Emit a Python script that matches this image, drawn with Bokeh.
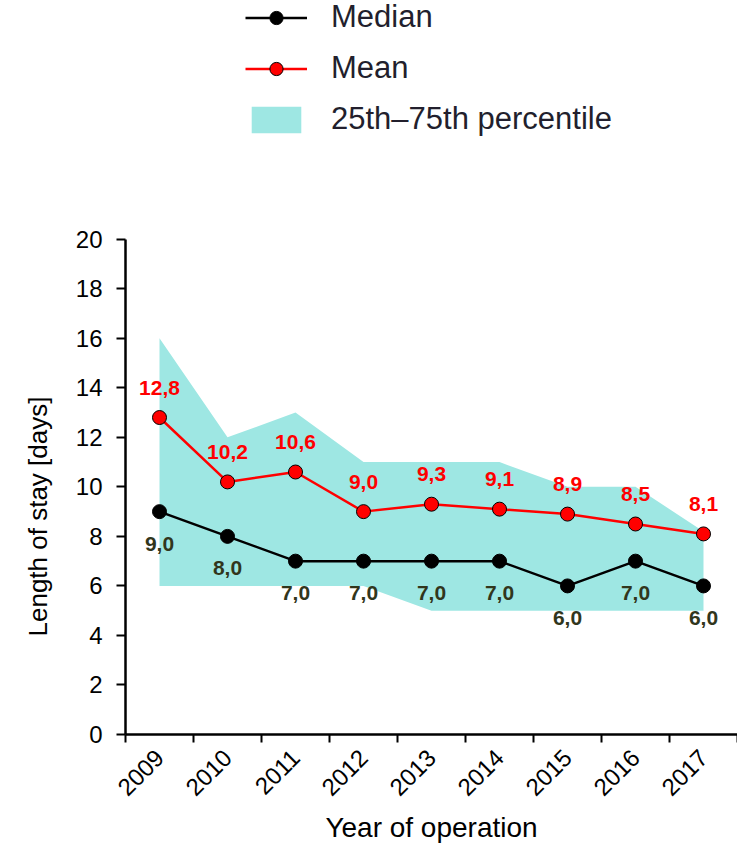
import math
from bokeh.plotting import figure
from bokeh.models import Range1d, FixedTicker, Legend, LegendItem, ColumnDataSource, Title
from bokeh.core.properties import value
from bokeh.embed import file_html
from bokeh.resources import INLINE

# ---- data ----
years = [2009, 2010, 2011, 2012, 2013, 2014, 2015, 2016, 2017]
median = [9.0, 8.0, 7.0, 7.0, 7.0, 7.0, 6.0, 7.0, 6.0]
mean = [12.8, 10.2, 10.6, 9.0, 9.3, 9.1, 8.9, 8.5, 8.1]
p25 = [6.0, 6.0, 6.0, 6.0, 5.0, 5.0, 5.0, 5.0, 5.0]
p75 = [16.0, 12.0, 13.0, 11.0, 11.0, 11.0, 10.0, 10.0, 8.2]
y_ticks = [0, 2, 4, 6, 8, 10, 12, 14, 16, 18, 20]
x_title = "Year of operation"
y_title = "Length of stay [days]"

FONT = "Liberation Sans"
BAND = "#9ee7e3"
MED_LBL = "#31361c"

def fmt(v):
    return f"{v:.1f}".replace(".", ",")

src = ColumnDataSource(dict(
    x=years, median=median, mean=mean, p25=p25, p75=p75,
    mean_lbl=[fmt(v) for v in mean], med_lbl=[fmt(v) for v in median],
))

p = figure(width=737, height=846, output_backend="svg", toolbar_location=None,
           x_range=Range1d(years[0] - 0.5, years[-1] + 0.5),
           y_range=Range1d(0, 29.64),
           min_border_left=125, min_border_right=0, min_border_top=0,
           min_border_bottom=111)
p.outline_line_color = None
p.xgrid.visible = False
p.ygrid.visible = False
p.background_fill_color = "white"
p.border_fill_color = "white"

band = p.varea(x="x", y1="p25", y2="p75", source=src, fill_color=BAND)
ml = p.line("x", "median", source=src, line_color="black", line_width=2.5)
ms = p.scatter("x", "median", source=src, size=14, fill_color="black", line_color="black")
mnl = p.line("x", "mean", source=src, line_color="#ff0000", line_width=2.5)
mns = p.scatter("x", "mean", source=src, size=14, fill_color="#ff0000", line_color="black", line_width=1)

p.text("x", "mean", text="mean_lbl", source=src, text_align="center", text_baseline="middle",
       y_offset=-30, text_font=value(FONT), text_font_style="bold", text_font_size="21px",
       text_color="#ff0000")
p.text("x", "median", text="med_lbl", source=src, text_align="center", text_baseline="middle",
       y_offset=32, text_font=value(FONT), text_font_style="bold", text_font_size="21px",
       text_color=MED_LBL)

# x axis
xa = p.xaxis[0]
bounds_x = [y - 0.5 for y in years] + [years[-1] + 0.5]
xa.ticker = FixedTicker(ticks=years, minor_ticks=bounds_x)
xa.major_tick_out = 0
xa.major_tick_in = 0
xa.minor_tick_out = 8
xa.minor_tick_in = 0
xa.minor_tick_line_color = "black"
xa.minor_tick_line_width = 2
xa.axis_line_width = 2.5
xa.major_label_orientation = math.pi / 4
xa.major_label_standoff = 11
xa.major_label_text_font = FONT
xa.major_label_text_font_size = "24px"
xa.major_label_text_color = "black"
xa.axis_label = x_title
xa.axis_label_text_font = FONT
xa.axis_label_text_font_size = "28px"
xa.axis_label_text_font_style = "normal"
xa.axis_label_text_color = "black"
xa.axis_label_standoff = 6

# y axis
ya = p.yaxis[0]
ya.ticker = FixedTicker(ticks=y_ticks)
ya.bounds = (y_ticks[0], y_ticks[-1])
ya.major_tick_out = 9
ya.major_tick_in = 0
ya.major_tick_line_width = 2
ya.minor_tick_out = 0
ya.minor_tick_in = 0
ya.axis_line_width = 2.5
ya.major_label_standoff = 14
ya.major_label_text_font = FONT
ya.major_label_text_font_size = "24px"
ya.major_label_text_color = "black"

# y-axis title as a side title so it can be shifted along the axis
p.add_layout(Title(text=y_title, align="left", offset=98, standoff=40,
                   text_font=FONT, text_font_size="26px", text_font_style="normal",
                   text_color="black"), "left")

legend = Legend(items=[
    LegendItem(label="Median", renderers=[ml, ms]),
    LegendItem(label="Mean", renderers=[mnl, mns]),
    LegendItem(label="25th\u201375th percentile", renderers=[band]),
], location=(120, 597), orientation="vertical", glyph_width=62, glyph_height=33,
   label_standoff=24, spacing=15, padding=0, margin=0, border_line_color=None,
   background_fill_alpha=0, label_text_font=FONT, label_text_font_size="31px",
   label_text_color="#221f2d", label_text_baseline="middle")
p.add_layout(legend)

open("out.html", "w").write(file_html(p, INLINE))
